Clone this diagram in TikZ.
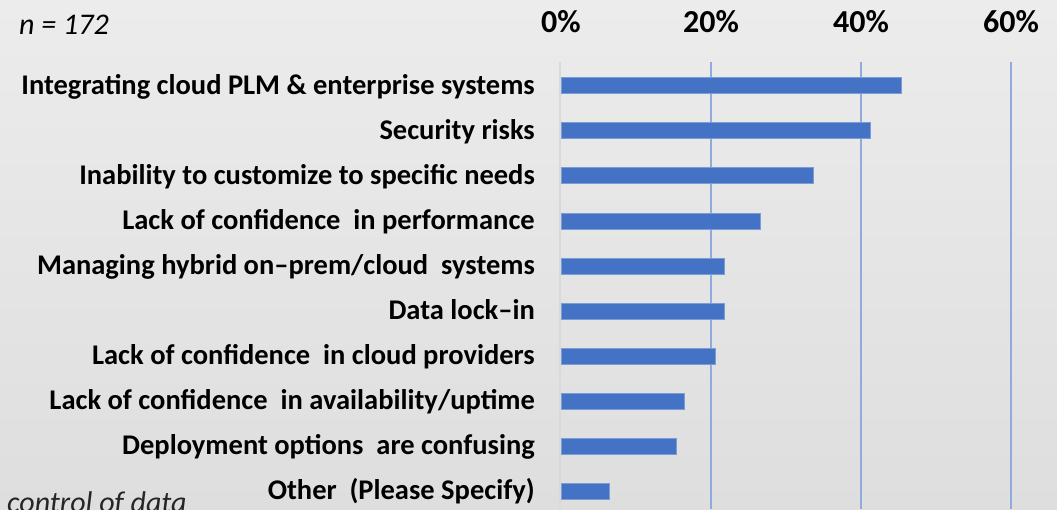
\documentclass[tikz,border=0pt]{standalone}
\usepackage{fontspec}
\setmainfont{Carlito}
\usetikzlibrary{positioning}

\definecolor{barblue}{RGB}{68,114,196}
\definecolor{gridblue}{RGB}{143,170,220}
\definecolor{bgtop}{RGB}{236,236,236}
\definecolor{bgbot}{RGB}{222,222,222}

\begin{document}
\begin{tikzpicture}[x=1pt,y=-1pt,
        bar/.style={fill=barblue, draw=barblue!70!white, line width=0.6pt, minimum height=16pt, inner sep=0pt, anchor=west},
        lab/.style={font=\fontsize{28.5}{30}\selectfont\bfseries, inner sep=0pt, text height=21pt, text depth=4pt},
        tick/.style={font=\fontsize{32}{34}\selectfont\bfseries, inner sep=0pt},
        grid/.style={draw=gridblue, line width=2pt}]
        \shade[top color=bgtop, bottom color=bgbot] (0,0) rectangle (1057,509);
        \useasboundingbox (0,0) rectangle (1057,509);
        % axis and gridlines
        \draw[gray!30, line width=2pt] (560,62) -- (560,509);
        \foreach \p in {20,40,60}
            \draw[grid] (561+7.5*\p,62) -- (561+7.5*\p,509);
        \foreach \p in {0,20,40,60}
            \node[tick] (t\p) at (561+7.5*\p,22) {\p\%};
        \node[font=\fontsize{30}{32}\selectfont\itshape, inner sep=0pt, anchor=base west] (n) at (19,34) {n = 172};
        \node[font=\fontsize{30}{32}\selectfont\itshape, text=black!85, inner sep=0pt, anchor=base west] (ctrl) at (7,512) {control of data};
        % bars
        \foreach \v/\t [count=\i] in {45.3/Integrating cloud PLM \& enterprise systems,
                41.2/Security risks,
                33.6/Inability to customize to specific needs,
                26.5/Lack of confidence\ \ in performance,
                21.7/Managing hybrid on--prem\slash cloud\ \ systems,
                21.7/Data lock--in,
                20.5/Lack of confidence\ \ in cloud providers\ ,
                16.4/Lack of confidence\ \ in availability\slash uptime,
                15.3/Deployment options\ \ are confusing,
                6.4/Other\ \ (Please Specify)\ } {
            \node[bar, minimum width=7.5*\v pt] (b\i) at (561,85.5+45.1*\i-45.1) {};
            \node[lab, left=26pt of b\i] (l\i) {\t};
        }
\end{tikzpicture}
\end{document}
